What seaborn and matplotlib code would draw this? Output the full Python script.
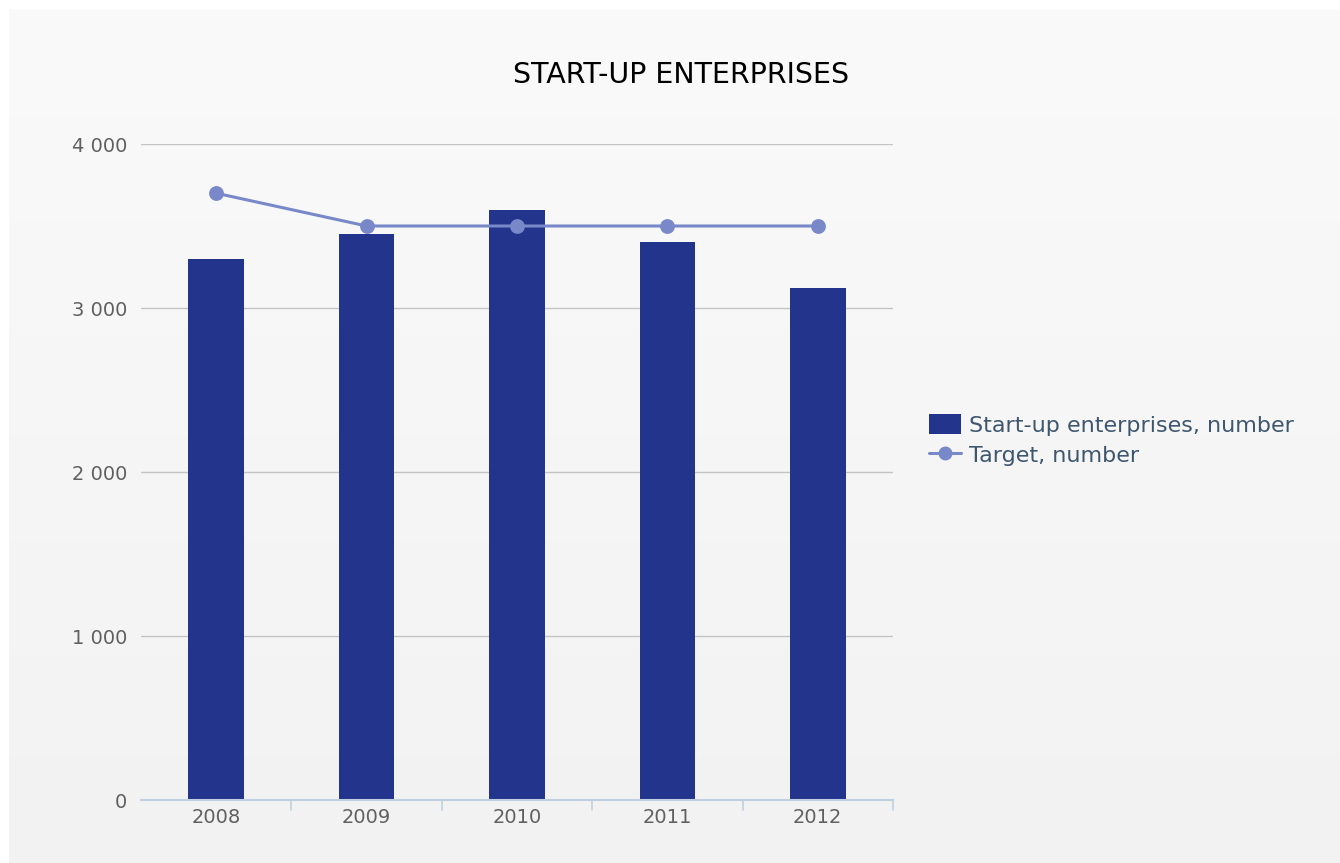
import numpy as np
import pandas as pd
import matplotlib
matplotlib.use("Agg")
import matplotlib.pyplot as plt
from matplotlib.lines import Line2D
from matplotlib.patches import Patch
import seaborn as sns

years = ["2008", "2009", "2010", "2011", "2012"]
startups = [3300, 3450, 3600, 3400, 3120]
target = [3700, 3500, 3500, 3500, 3500]
y_ticks = [0, 1000, 2000, 3000, 4000]
y_tick_labels = ["0", "1 000", "2 000", "3 000", "4 000"]

bar_color = "#22348c"
line_color = "#7888c8"
grid_color = "#c4c4c4"
axis_color = "#c0d0e0"
label_color = "#606060"
legend_color = "#3e576f"

sns.set_theme(style="white")
plt.rcParams["font.family"] = ["DejaVu Sans"]

fig = plt.figure(figsize=(13.4, 8.63), dpi=100)
fig.patch.set_facecolor("white")

# soft vertical gradient behind the chart
bg = fig.add_axes([9 / 1340, 0, 1 - 9 / 1340, 1 - 9 / 863], zorder=-10)
grad = np.linspace(0, 1, 256).reshape(-1, 1)
cmap = matplotlib.colors.LinearSegmentedColormap.from_list("bg", ["#fafafa", "#f2f2f2"])
bg.imshow(grad, aspect="auto", cmap=cmap, extent=[0, 1, 0, 1], origin="upper")
bg.set_axis_off()

ax = fig.add_axes([141 / 1340, 1 - 800 / 863, (893 - 141) / 1340, (800 - 144) / 863])
ax.set_facecolor("none")

df = pd.DataFrame({"year": years, "startups": startups, "target": target})

sns.barplot(data=df, x="year", y="startups", color=bar_color, saturation=1,
            width=0.37, ax=ax, zorder=2, edgecolor="none")
sns.pointplot(data=df, x="year", y="target", color=line_color, ax=ax,
              markers="o", markersize=9, linewidth=2.2, zorder=3)

ax.set_xlim(-0.5, 4.5)
ax.set_ylim(0, 4000)
ax.set_yticks(y_ticks)
ax.set_yticklabels(y_tick_labels)
ax.set_xlabel("")
ax.set_ylabel("")

for y in y_ticks[1:]:
    ax.axhline(y, color=grid_color, linewidth=1.0, zorder=1)

for side in ["top", "right", "left"]:
    ax.spines[side].set_visible(False)
ax.spines["bottom"].set_color(axis_color)
ax.spines["bottom"].set_linewidth(1.5)

# tick marks on category boundaries
for b in np.arange(0.5, 5.0, 1.0):
    ax.plot([b, b], [0, -0.015], transform=ax.get_xaxis_transform(),
            color=axis_color, linewidth=1.2, clip_on=False)

ax.tick_params(axis="x", length=0, pad=6, labelsize=14, labelcolor=label_color)
ax.tick_params(axis="y", length=0, pad=10, labelsize=14, labelcolor=label_color)

fig.text(681 / 1340, 1 - 75 / 863, "START-UP ENTERPRISES", ha="center", va="center",
         fontsize=20.5, color="#000000")

handles = [
    Patch(facecolor=bar_color, edgecolor="none"),
    Line2D([0], [0], color=line_color, linewidth=2.2, marker="o", markersize=9),
]
leg = fig.legend(handles, ["Start-up enterprises, number", "Target, number"],
                 loc="center left", bbox_to_anchor=(918 / 1340, 1 - 440 / 863),
                 frameon=False, fontsize=16, labelcolor=legend_color, borderpad=0,
                 handlelength=1.44, handleheight=1.0, handletextpad=0.36,
                 labelspacing=0.4)

fig.savefig("out.png", dpi=100)
